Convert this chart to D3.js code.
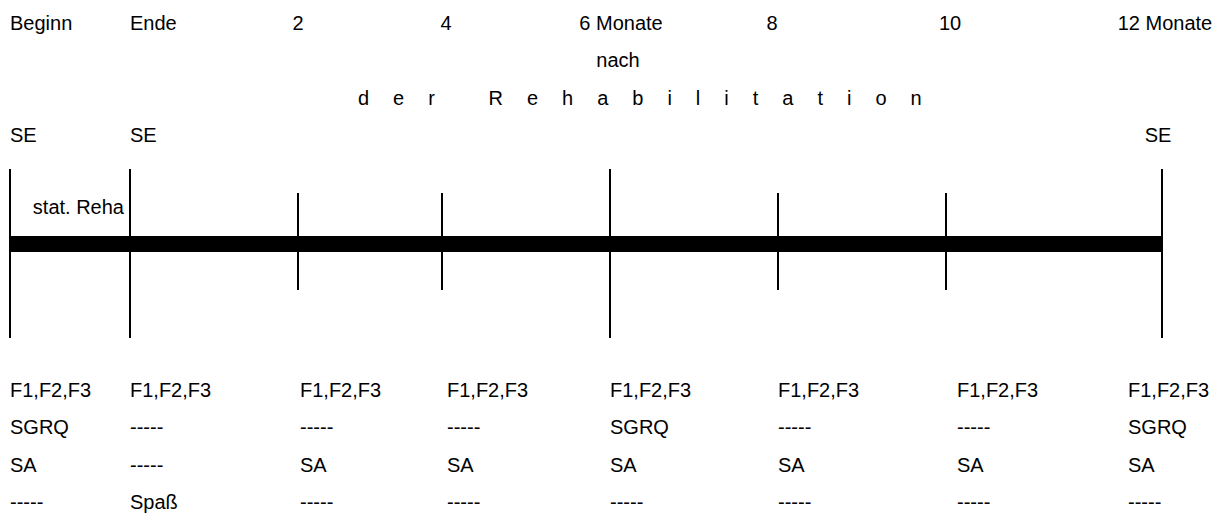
<!DOCTYPE html>
<html>
<head>
<meta charset="utf-8">
<script src="https://cdn.jsdelivr.net/npm/d3@7"></script>
<style>
    body { margin: 0; background: #fff; }
    text { font-family: Arial, "Liberation Sans", sans-serif; font-size: 20px; fill: #000; }
</style>
</head>
<body>
<svg id="visualisation" width="1226" height="513"></svg>
<script>
// time points of the study (months after the end of the rehab, Beginn = start of stat. Reha)
var monate = [-0.75, 0, 2, 4, 6, 8, 10, 12];
var zeitLabels = ["Beginn", "Ende", "2", "4", "6 Monate", "8", "10", "12 Monate"];
var langeLinie = [true, true, false, false, true, false, false, true];
var seLabels = ["SE", "SE", "", "", "", "", "", "SE"];
var fLabels = ["F1,F2,F3", "F1,F2,F3", "F1,F2,F3", "F1,F2,F3", "F1,F2,F3", "F1,F2,F3", "F1,F2,F3", "F1,F2,F3"];
var sgrqLabels = ["SGRQ", "-----", "-----", "-----", "SGRQ", "-----", "-----", "SGRQ"];
var saLabels = ["SA", "-----", "SA", "SA", "SA", "SA", "SA", "SA"];
var spassLabels = ["-----", "Spaß", "-----", "-----", "-----", "-----", "-----", "-----"];

var initchart = function () {
    var vis = d3.select("#visualisation"),
        WIDTH = 1226,
        // the drawing is not evenly spaced, so the month scale is piecewise
        xScale = d3.scaleLinear()
            .domain(monate)
            .range([10, 130, 298, 442, 610, 778, 946, 1162]),
        rowY = [30, 67, 104.5, 141.5],
        bottomY = [397, 434.3, 471.6, 508.5],
        // tab stops in the original don't sit exactly on the lines
        topDx = [0, 0, 0, 4, 11, -6, 4, 3],
        colDx = [0, 0, 2, 5, 0, 0, 11, 0];

    var pts = monate.map(function (m, i) {
        return {
            m: m, label: zeitLabels[i], lang: langeLinie[i], se: seLabels[i],
            rows: [fLabels[i], sgrqLabels[i], saLabels[i], spassLabels[i]]
        };
    });

    // first two labels are left aligned at their line, the rest centered
    var anchor = function (d, i) { return i < 2 ? "start" : "middle"; };

    vis.append("g").selectAll("text")
        .data(pts)
        .enter().append("text")
        .attr("x", function (d, i) { return xScale(d.m) + topDx[i]; })
        .attr("y", rowY[0])
        .attr("text-anchor", anchor)
        .text(function (d) { return d.label; });

    vis.append("text")
        .attr("x", xScale(6) + 8)
        .attr("y", rowY[1])
        .attr("text-anchor", "middle")
        .text("nach");

    vis.append("text")
        .attr("x", xScale(6) - 252)
        .attr("y", rowY[2])
        .style("letter-spacing", "24px")
        .text("der Rehabilitation");

    vis.append("g").selectAll("text")
        .data(pts.filter(function (d) { return d.se; }))
        .enter().append("text")
        .attr("x", function (d, i) { return xScale(d.m) + (i < 2 ? 0 : -4); })
        .attr("y", rowY[3])
        .attr("text-anchor", anchor)
        .text(function (d) { return d.se; });

    // thick time bar
    vis.append("rect")
        .attr("x", xScale(monate[0]))
        .attr("y", 236)
        .attr("width", xScale(12) - xScale(monate[0]))
        .attr("height", 16)
        .attr("fill", "#000");

    vis.append("g").selectAll("line")
        .data(pts)
        .enter().append("line")
        .attr("x1", function (d) { return xScale(d.m); })
        .attr("x2", function (d) { return xScale(d.m); })
        .attr("y1", function (d) { return d.lang ? 169 : 193; })
        .attr("y2", function (d) { return d.lang ? 338 : 290; })
        .attr("stroke", "#000")
        .attr("stroke-width", 2);

    vis.append("text")
        .attr("x", xScale(0) - 6)
        .attr("y", 214)
        .attr("text-anchor", "end")
        .text("stat. Reha");

    // measurements below each time point
    var col = vis.append("g").selectAll("g")
        .data(pts)
        .enter().append("g")
        .attr("transform", function (d, i) {
            return "translate(" + Math.min(xScale(d.m) + colDx[i], WIDTH - 98) + ",0)";
        });
    col.selectAll("text")
        .data(function (d) { return d.rows; })
        .enter().append("text")
        .attr("y", function (d, i) { return bottomY[i]; })
        .text(function (d) { return d; });
};

initchart();
</script>
</body>
</html>
